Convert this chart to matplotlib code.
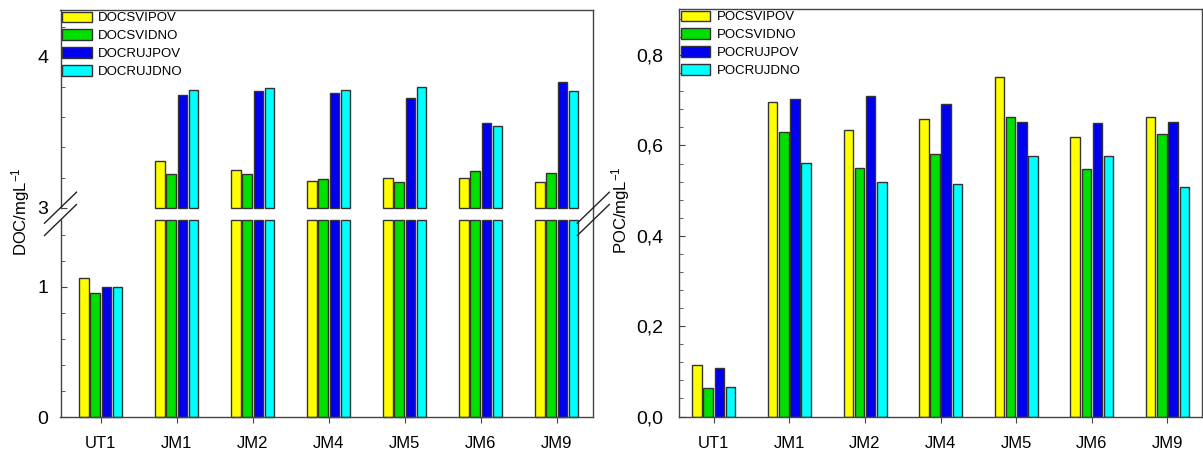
import numpy as np
import matplotlib
matplotlib.use('Agg')
import matplotlib.pyplot as plt
from matplotlib.lines import Line2D
from matplotlib.ticker import MultipleLocator, FuncFormatter

plt.rcParams['font.family'] = ['Liberation Sans', 'DejaVu Sans']
plt.rcParams['mathtext.fontset'] = 'custom'
plt.rcParams['mathtext.rm'] = 'Liberation Sans'
plt.rcParams['mathtext.it'] = 'Liberation Sans:italic'

# podaci
categories = ['UT1', 'JM1', 'JM2', 'JM4', 'JM5', 'JM6', 'JM9']

doc_labels = ['DOCSVIPOV', 'DOCSVIDNO', 'DOCRUJPOV', 'DOCRUJDNO']
doc_svi_pov = [1.07, 3.31, 3.25, 3.18, 3.20, 3.20, 3.17]
doc_svi_dno = [0.95, 3.22, 3.22, 3.19, 3.17, 3.24, 3.23]
doc_ruj_pov = [1.00, 3.75, 3.77, 3.76, 3.73, 3.56, 3.83]
doc_ruj_dno = [1.00, 3.78, 3.79, 3.78, 3.80, 3.54, 3.77]

poc_labels = ['POCSVIPOV', 'POCSVIDNO', 'POCRUJPOV', 'POCRUJDNO']
poc_svi_pov = [0.114, 0.697, 0.635, 0.658, 0.751, 0.619, 0.663]
poc_svi_dno = [0.064, 0.629, 0.549, 0.582, 0.663, 0.548, 0.626]
poc_ruj_pov = [0.108, 0.702, 0.709, 0.691, 0.652, 0.649, 0.651]
poc_ruj_dno = [0.066, 0.562, 0.520, 0.514, 0.576, 0.577, 0.507]

doc_series = [doc_svi_pov, doc_svi_dno, doc_ruj_pov, doc_ruj_dno]
poc_series = [poc_svi_pov, poc_svi_dno, poc_ruj_pov, poc_ruj_dno]

colors = ['#ffff00', '#00e000', '#0000f0', '#00ffff']
edge = '#333333'
spine_col = '#444444'

LO_TOP = 1.515      # gornja granica donjeg dijela
HI_BOTTOM = 3.0     # donja granica gornjeg dijela
HI_TOP = 4.31

W, H = 1203, 450


def px(l, t, r, b):
    return [l / W, (H - b) / H, (r - l) / W, (b - t) / H]


fig = plt.figure(figsize=(W / 100, H / 100), dpi=100)
ax_lo = fig.add_axes(px(60.5, 220, 593.3, 417))
ax_hi = fig.add_axes(px(60.5, 10, 593.3, 207.7))
ax_r = fig.add_axes(px(679, 9, 1201.5, 416.5))

x = np.arange(len(categories))
step = 0.148
width = 0.125

# DOC - prekinuta os
for i, (vals, col, lab) in enumerate(zip(doc_series, colors, doc_labels)):
    off = (i - 1.5) * step
    v = np.array(vals)
    ax_lo.bar(x + off, np.minimum(v, LO_TOP), width, color=col,
              edgecolor=edge, linewidth=1.0, clip_on=False)
    m = v > HI_BOTTOM
    ax_hi.bar(x[m] + off, v[m] - HI_BOTTOM, width, bottom=HI_BOTTOM, color=col,
              edgecolor=edge, linewidth=1.0, clip_on=False, label=lab)

# POC
for i, (vals, col, lab) in enumerate(zip(poc_series, colors, poc_labels)):
    off = (i - 1.5) * step
    ax_r.bar(x + off, vals, width, color=col, edgecolor=edge,
             linewidth=1.0, label=lab)

for ax in (ax_lo, ax_hi):
    ax.set_xlim(-0.53, 6.48)
ax_r.set_xlim(-0.46, 6.45)
ax_lo.set_ylim(0, LO_TOP)
ax_hi.set_ylim(HI_BOTTOM, HI_TOP)
ax_r.set_ylim(0, 0.902)

for ax in (ax_lo, ax_hi, ax_r):
    for s in ax.spines.values():
        s.set_color(spine_col)
        s.set_linewidth(1.0)
    ax.yaxis.set_major_locator(MultipleLocator(1))
    ax.yaxis.set_minor_locator(MultipleLocator(0.2))
    ax.tick_params(axis='y', which='both', direction='in', left=True, right=False,
                   colors=spine_col, labelcolor='black', labelsize=14, pad=9)
    ax.tick_params(axis='y', which='major', length=4.5)
    ax.tick_params(axis='y', which='minor', length=3)

ax_lo.spines['top'].set_visible(False)
ax_hi.spines['bottom'].set_visible(False)
ax_hi.set_xticks([])

for ax in (ax_lo, ax_r):
    ax.set_xticks(x)
    ax.set_xticklabels(categories)
    ax.tick_params(axis='x', direction='out', length=4, colors=spine_col,
                   labelcolor='black', labelsize=12, pad=10)

ax_r.yaxis.set_major_locator(MultipleLocator(0.2))
ax_r.yaxis.set_minor_locator(MultipleLocator(0.04))
ax_r.yaxis.set_major_formatter(FuncFormatter(lambda v, p: f'{v:.1f}'.replace('.', ',')))
ax_r.tick_params(axis='y', pad=11.5)

leg_kw = dict(loc='upper left', bbox_to_anchor=(0, 1), frameon=False, fontsize=9.5,
              handlelength=2.25, handleheight=0.85, handletextpad=0.5,
              labelspacing=0.38, borderaxespad=0, borderpad=0.12)
ax_hi.legend(**leg_kw)
ax_r.legend(**leg_kw)

fig.text(21 / W, (H - 212) / H, 'DOC/mgL$^{-1}$', rotation=90,
         ha='center', va='center', fontsize=12)
fig.text(621 / W, (H - 210) / H, 'POC/mgL$^{-1}$', rotation=90,
         ha='center', va='center', fontsize=12)

# desna os je neprekinuta kroz procjep
fig.add_artist(Line2D([593.3 / W, 593.3 / W], [(H - 220) / H, (H - 207.7) / H],
                      color=spine_col, lw=1.0))

# oznake prekida //
for xs in (60.5, 593.3):
    for ys in (207.7, 220):
        fig.add_artist(Line2D([(xs - 16) / W, (xs + 16) / W],
                              [(H - ys - 15.5) / H, (H - ys + 15.5) / H],
                              color='#222222', lw=1.0))

fig.savefig('out.png', dpi=100)
